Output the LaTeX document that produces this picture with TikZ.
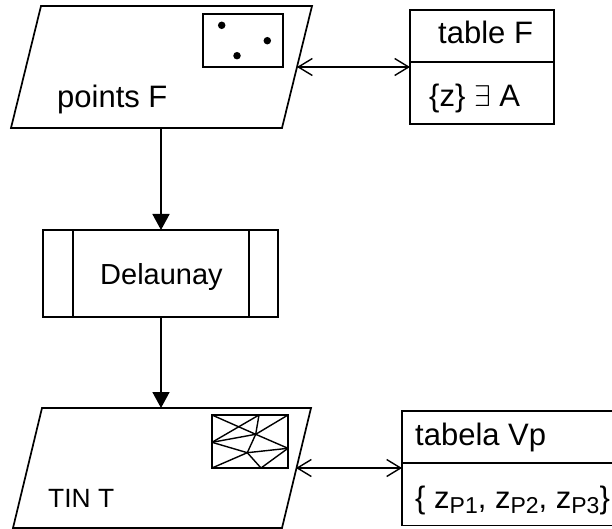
\documentclass[tikz,border=0pt]{standalone}
\usepackage{fontspec}
\usepackage{graphicx}
\setmainfont{Liberation Sans}
\usetikzlibrary{arrows.meta}
\newcommand{\fsz}[1]{\fontsize{#1}{#1}\selectfont}
\newcommand{\subP}[1]{\raisebox{-5pt}{\fsz{23}P#1}}
\tikzset{
  x=1pt,y=-1pt,
  line/.style={line width=1.7pt,draw=black},
  lbl/.style={inner sep=0pt,anchor=base west,font=\fsz{31}},
  conn/.style={line width=1.7pt,-{Triangle[length=16pt,width=17pt]}},
  biconn/.style={line width=1.6pt,{Straight Barb[length=14pt,width=17pt,line width=1.4pt]}-{Straight Barb[length=14pt,width=17pt,line width=1.4pt]}},
  mesh/.style={line width=1.4pt},
  dot/.style={circle,fill=black,inner sep=0pt,minimum size=7.5pt}
}
\begin{document}
\begin{tikzpicture}
\useasboundingbox (0,0) rectangle (612,529);
\draw[line] (41,6) -- (312,6) -- (282,128) -- (11,128) -- cycle;
\draw[line] (203.3,13.7) rectangle (282.7,67.3);
\node[dot] (d1) at (221.7,25.3) {};
\node[dot] (d2) at (267.3,40.7) {};
\node[dot] (d3) at (237,55.7) {};
\node[lbl] (pf) at (57,108) {points F};
\coordinate (a1) at (297,67);
\draw[line] (410,10) rectangle (554,124);
\draw[line] (410,62) -- (554,62);
\coordinate (t1) at (410,67);
\node[lbl] (tf) at (438,44) {table F};
\node[lbl] (za) at (429,107) {\{z\} \scalebox{3}{\fsz{10}$\exists$} A};
\draw[biconn] (a1) -- (t1);
\draw[line] (43,230) rectangle (278,317);
\draw[line] (73,230) -- (73,317);
\draw[line] (249,230) -- (249,317);
\node[lbl,font=\fsz{29}] (del) at (100,284) {Delaunay};
\coordinate (p1) at (161,128);
\coordinate (p2) at (161,230);
\coordinate (p3) at (161,317);
\coordinate (p4) at (161,408);
\draw[conn] (p1) -- (p2);
\draw[conn] (p3) -- (p4);
\draw[line] (42,408) -- (311,408) -- (282,528) -- (13,528) -- cycle;
\draw[line] (212,415) rectangle (288,468);
\coordinate (TL) at (212,415);
\coordinate (A) at (255.7,434.3);
\coordinate (R) at (288,448.3);
\coordinate (T) at (259,415);
\coordinate (B) at (247.3,452.7);
\coordinate (Bo) at (261,468);
\coordinate (L) at (212,442.3);
\coordinate (TR) at (288,415);
\coordinate (BL) at (212,468);
\draw[mesh] (TL) -- (A) -- (R);
\draw[mesh] (T) -- (A) -- (B) -- (Bo) -- (R);
\draw[mesh] (L) -- (T);
\draw[mesh] (L) -- (A) -- (TR);
\draw[mesh] (L) -- (B) -- (R);
\draw[mesh] (BL) -- (B);
\node[lbl,font=\fsz{26.4}] (tin) at (48,507) {TIN T};
\coordinate (a2) at (296,468);
\draw[line] (612,411) -- (402,411) -- (402,525.5) -- (612,525.5);
\draw[line] (402,463) -- (612,463);
\coordinate (t2) at (402,468);
\node[lbl] (tv) at (415,445) {tabela Vp};
\node[lbl] (zp) at (415,508) {\{ \kern0pt z\subP{1}, z\subP{2}, z\subP{3}\}};
\draw[biconn] (a2) -- (t2);
\end{tikzpicture}
\end{document}
